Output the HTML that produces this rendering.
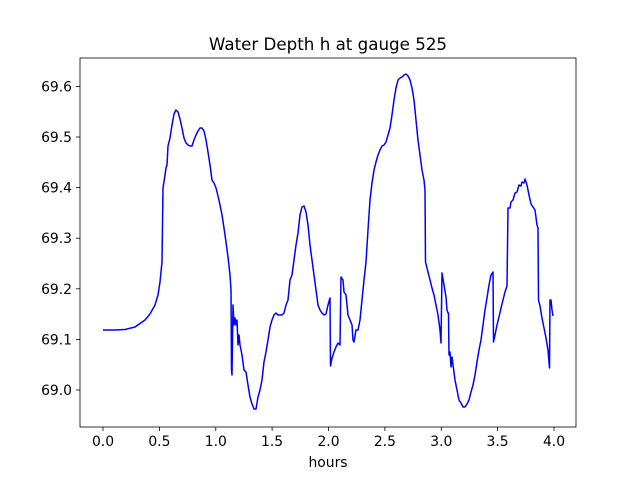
<!DOCTYPE html>
<html><head><meta charset="utf-8"><style>body{margin:0;background:#fff}svg{display:block}text{font-family:"DejaVu Sans","Liberation Sans",sans-serif;font-size:13.9px;fill:#000}</style></head>
<body>
<svg width="640" height="480" xmlns="http://www.w3.org/2000/svg">
<rect width="640" height="480" fill="#fff"/>
<text x="328" y="50" text-anchor="middle" style="font-size:16.7px">Water Depth h at gauge 525</text>
<g stroke="#000" stroke-width="0.8">
<line x1="103" y1="427" x2="103" y2="431"/><line x1="159.4" y1="427" x2="159.4" y2="431"/><line x1="215.8" y1="427" x2="215.8" y2="431"/><line x1="272.1" y1="427" x2="272.1" y2="431"/><line x1="328.5" y1="427" x2="328.5" y2="431"/><line x1="384.9" y1="427" x2="384.9" y2="431"/><line x1="441.3" y1="427" x2="441.3" y2="431"/><line x1="497.6" y1="427" x2="497.6" y2="431"/><line x1="554" y1="427" x2="554" y2="431"/>
<line x1="76" y1="390" x2="80" y2="390"/><line x1="76" y1="339.4" x2="80" y2="339.4"/><line x1="76" y1="288.8" x2="80" y2="288.8"/><line x1="76" y1="238.2" x2="80" y2="238.2"/><line x1="76" y1="187.6" x2="80" y2="187.6"/><line x1="76" y1="137" x2="80" y2="137"/><line x1="76" y1="86.4" x2="80" y2="86.4"/>
</g>
<g text-anchor="middle">
<text x="103" y="446">0.0</text><text x="159.4" y="446">0.5</text><text x="215.8" y="446">1.0</text><text x="272.1" y="446">1.5</text><text x="328.5" y="446">2.0</text><text x="384.9" y="446">2.5</text><text x="441.3" y="446">3.0</text><text x="497.6" y="446">3.5</text><text x="554" y="446">4.0</text>
<text x="328" y="467">hours</text>
</g>
<g text-anchor="end">
<text x="72" y="395">69.0</text><text x="72" y="344.4">69.1</text><text x="72" y="293.8">69.2</text><text x="72" y="243.2">69.3</text><text x="72" y="192.6">69.4</text><text x="72" y="142">69.5</text><text x="72" y="91.4">69.6</text>
</g>
<polyline fill="none" stroke="#0000ff" stroke-width="1.5" stroke-linejoin="round" points="103,330 115,330 125,329.5 135,327 145,320 150,314 155,305 158,295 160,282 162,262 163,188 165,175 166,168 167,165 168,146 170,138 172,125 174,114 176,110 178,112 180,119 182,128 184,138 186,143 188,145 190,146 192,146 194,140 196,135 198,131 200,128 202,128 204,131 206,140 208,152 210,165 212,180 214,183 216,188 218,196 220,205 222,215 224,228 226,242 228,257 230,275 231,290 231.5,370 232,375 233,305 234,325 235,318 236,325 237,320 238,345 239,335 240,345 242,355 244,370 246,372 248,385 250,397 252,404 254,409 256,409 258,397 260,390 262,380 264,362 266,352 268,340 270,327 272,320 274,315 276,313 278,315 282,315 284,313 286,305 288,300 290,280 292,275 294,260 296,245 298,233 300,215 302,207 304,206 306,212 308,225 310,245 312,260 314,275 316,290 318,305 320,310 322,313 324,315 326,314 328,305 330,298 330.5,366 332,358 334,352 336,347 338,343 340,345 341,277 343,280 344,292 346,295 348,315 350,320 352,325 353,340 354,342 356,330 358,330 360,320 362,300 364,280 366,262 368,230 370,200 372,183 374,170 376,162 378,155 380,150 382,146 384,145 386,142 388,135 390,128 392,115 394,100 396,88 398,80 400,78 402,77 404,75 406,74 408,76 410,80 412,88 414,100 416,120 418,140 420,155 422,170 424,180 425,190 425.5,262 428,272 430,280 432,288 434,295 436,305 438,315 440,330 441,343 442,273 444,285 446,297 447,310 448,313 448.5,313 449,355 450,352 451,367 452,357 453,365 455,380 457,390 459,400 461,403 463,407 465,407 467,404 469,400 471,392 473,385 475,375 477,362 479,350 481,340 483,325 485,310 487,298 489,285 491,275 493,272 493.5,342 495,335 497,325 499,317 501,308 503,300 505,292 507,286 508,208 510,208 511,202 513,200 515,193 517,192 519,185 521,186 522,182 524,183 525,179 527,185 529,195 531,204 533,207 535,210 537,225 538,228 538.5,300 540,306 542,318 544,328 546,338 548,350 549,362 549.5,368 550,300 551,300 552,310 553,316"/>
<rect x="80" y="58" width="496" height="369" fill="none" stroke="#000" stroke-width="0.8"/>
</svg>
</body></html>
